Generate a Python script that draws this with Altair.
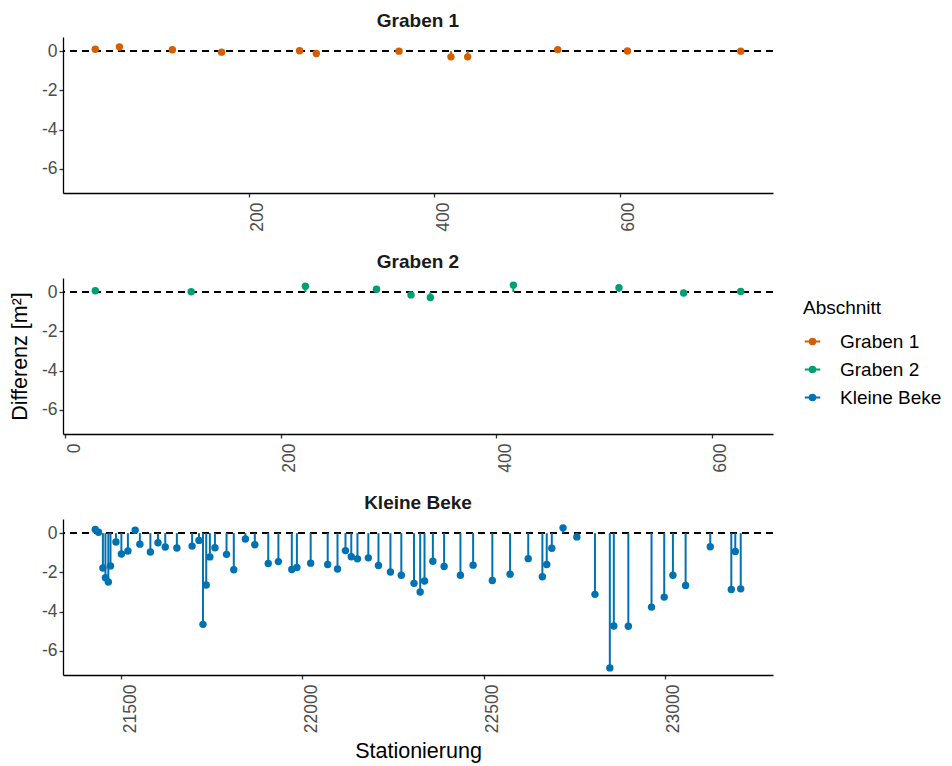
import altair as alt
import pandas as pd

# ---------------- data ----------------
sections = ["Graben 1", "Graben 2", "Kleine Beke"]
section_colors = ["#D55E00", "#009E73", "#0072B2"]

g1_station = [35, 61, 118, 171, 255, 273, 362, 418, 436, 533, 608, 730]
g1_diff = [0.10, 0.22, 0.07, -0.05, 0.02, -0.12, 0.00, -0.29, -0.29, 0.08, 0.01, 0.00]

g2_station = [28, 117, 223, 289, 321, 339, 416, 514, 574, 627]
g2_diff = [0.07, 0.02, 0.30, 0.15, -0.14, -0.27, 0.36, 0.23, -0.04, 0.03]

kb_station = [21429, 21438, 21450, 21457, 21465, 21471, 21486, 21501, 21519, 21539,
              21552, 21581, 21602, 21622, 21654, 21696, 21715, 21726, 21735, 21745,
              21759, 21791, 21811, 21843, 21869, 21906, 21934, 21971, 21985, 22023,
              22070, 22097, 22119, 22135, 22152, 22182, 22210, 22243, 22273, 22308,
              22325, 22337, 22360, 22391, 22436, 22471, 22524, 22573, 22623, 22662,
              22674, 22688, 22719, 22757, 22807, 22848, 22859, 22899, 22963, 22998,
              23022, 23057, 23125, 23183, 23194, 23209]
kb_diff = [0.19, 0.05, -1.78, -2.27, -2.49, -1.67, -0.45, -1.06, -0.91, 0.15,
           -0.56, -0.96, -0.49, -0.71, -0.76, -0.66, -0.37, -4.65, -2.64, -1.21,
           -0.74, -1.08, -1.87, -0.30, -0.59, -1.55, -1.45, -1.85, -1.75, -1.53,
           -1.60, -1.83, -0.89, -1.20, -1.31, -1.26, -1.65, -1.98, -2.15, -2.56,
           -3.00, -2.44, -1.43, -1.70, -2.15, -1.63, -2.41, -2.09, -1.30, -2.22,
           -1.60, -0.77, 0.27, -0.19, -3.12, -6.87, -4.73, -4.75, -3.77, -3.26,
           -2.15, -2.67, -0.69, -2.87, -0.93, -2.84]

g1_ticks = [200, 400, 600]
g2_ticks = [0, 200, 400, 600]
kb_ticks = [21500, 22000, 22500, 23000]
y_ticks = [-6, -4, -2, 0]


def expand(vals, frac=0.05):
    lo, hi = min(vals), max(vals)
    r = hi - lo
    return [lo - frac * r, hi + frac * r]


y_domain = expand(g1_diff + g2_diff + kb_diff)

FONT = "Liberation Sans"
PANEL_W = 710
PANEL_H = 156

sym_path = ("M-1,0L1,0M-0.36,0A0.36,0.36,0,1,0,0.36,0"
            "A0.36,0.36,0,1,0,-0.36,0Z")
legend = alt.Legend(
    title="Abschnitt", orient="none", legendX=740, legendY=262,
    symbolType=sym_path, symbolSize=240, symbolStrokeWidth=2,
    titleFontSize=19, titleFontWeight="normal", titleColor="black",
    titleFont=FONT, labelFont=FONT, labelFontSize=19, labelColor="black",
    rowPadding=8, titlePadding=14, labelOffset=18,
)
color_scale = alt.Scale(domain=sections, range=section_colors)


def panel(name, stations, diffs, ticks, y_title, x_title):
    df = pd.DataFrame({"Stationierung": stations, "Differenz": diffs,
                       "Abschnitt": [name] * len(stations)})
    x = alt.X("Stationierung:Q",
              scale=alt.Scale(domain=expand(stations), nice=False, zero=False),
              axis=alt.Axis(values=ticks, title=x_title, format="d",
                            labelAngle=-90, labelAlign="right",
                            labelBaseline="top", labelPadding=5,
                            titlePadding=8))
    y = alt.Y("Differenz:Q",
              scale=alt.Scale(domain=y_domain, nice=False, zero=False),
              axis=alt.Axis(values=y_ticks, title=y_title,
                            labelExpr="'' + datum.value", titlePadding=10))
    base = alt.Chart(df)
    zero = base.mark_rule(color="black", strokeDash=[7, 5], strokeWidth=1.4).encode(
        y=alt.datum(0, type="quantitative"))
    stems = base.mark_rule(strokeWidth=2).encode(
        x=x, y=y, y2=alt.datum(0),
        stroke=alt.Stroke("Abschnitt:N", scale=color_scale, legend=legend))
    dots = base.mark_circle(size=55, opacity=1).encode(
        x=x, y=y,
        fill=alt.Fill("Abschnitt:N", scale=color_scale, legend=legend))
    return alt.layer(zero, stems, dots).properties(
        width=PANEL_W, height=PANEL_H,
        title=alt.Title(name, fontSize=19, fontWeight="bold", font=FONT,
                        color="#1A1A1A", anchor="middle", offset=6))


p1 = panel("Graben 1", g1_station, g1_diff, g1_ticks, None, None)
p2 = panel("Graben 2", g2_station, g2_diff, g2_ticks, "Differenz [m²]", None)
p3 = panel("Kleine Beke", kb_station, kb_diff, kb_ticks, None, "Stationierung")

chart = alt.vconcat(p1, p2, p3, spacing=85, bounds="flush").resolve_scale(
    x="independent", y="independent", fill="shared", stroke="shared"
).properties(
    padding={"left": 1, "top": 4, "right": 0, "bottom": 0}
).configure_view(stroke=None).configure_axis(
    grid=False, domainColor="black", domainWidth=1.3, tickColor="#333333",
    tickWidth=1.3, tickSize=4, labelColor="#4D4D4D", labelFontSize=17.5,
    labelFont=FONT, titleFont=FONT, titleFontSize=21.5, titleColor="black",
    titleFontWeight="normal", labelFlush=False, labelOverlap=False,
)

chart.save("out.html", embed_options={"renderer": "svg", "actions": False})
